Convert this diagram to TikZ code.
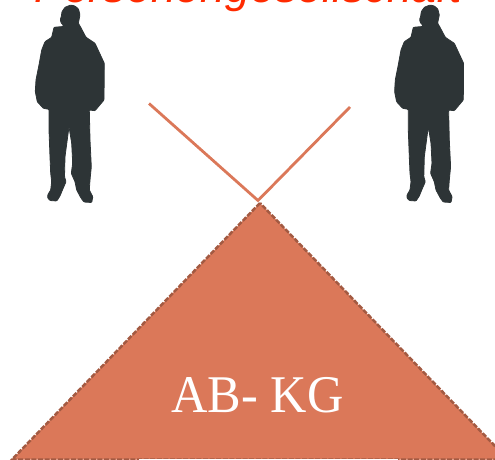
\documentclass[tikz,border=0pt]{standalone}
\usepackage{fontspec}
\setmainfont{Liberation Serif}
\newfontfamily\redfont{Liberation Sans}
\newfontfamily\labelfont[FakeStretch=0.95]{Liberation Serif}
\definecolor{terra}{HTML}{DB7859}
\definecolor{terradark}{HTML}{A35A42}
\definecolor{redtitle}{HTML}{FF2A00}
\definecolor{figure}{HTML}{2D3436}
\tikzset{
  silhouette/.style={fill=figure,draw=figure,line width=0.8pt,rounded corners=0.8pt},
  strut/.style={draw=terra,line width=2.8pt},
  roof/.style={fill=terra,draw=terradark,line width=2.5pt,dash pattern=on 5pt off 1.6pt},
}
\newcommand{\personpath}{
  (70.7,5) -- (65,7.3) -- (62,11.7) -- (61.3,16.7) -- (60.3,19.3) -- (61,22.7) -- (63.3,25) -- (63.3,26.5) -- (54,27.3) -- (51.7,37.3) -- (45,41.7) -- (41.7,50) -- (39.3,63.3) -- (36,80) -- (35.3,91.7) -- (37.3,101.7) -- (43.3,108.3) -- (49,109.3) -- (49,130) -- (50,156.7) -- (50.7,173.3) -- (51.7,181.7) -- (50.7,190) -- (47.7,195) -- (47.7,198) -- (50,200.5) -- (56.7,201) -- (60,196) -- (62,191) -- (66,181.7) -- (64.5,176.7) -- (65,156.7) -- (69,126.7) -- (71.7,143.3) -- (72.7,163.3) -- (71.3,173.3) -- (75,181.7) -- (76.7,190) -- (81,198) -- (84,202) -- (91.7,202.5) -- (92.8,196.7) -- (89.3,190) -- (90,180) -- (91.3,166.7) -- (90,140) -- (89.3,110) -- (95,110.7) -- (104,100) -- (104.3,63.3) -- (95,43.3) -- (86,37.3) -- (80,26) -- (78.3,23.3) -- (80,15) -- (78.5,9) -- (75,6) -- cycle
}
\begin{document}
\begin{tikzpicture}[x=1pt,y=-1pt]
\useasboundingbox (0,0) rectangle (495,460);
\begin{scope}
\clip (0,0) rectangle (495,460);
\node[anchor=base,inner sep=0pt,text=redtitle,font=\redfont\itshape\fontsize{44.7}{50}\selectfont] (title) at (248,3) {Personengesellschaft};
\fill[silhouette] \personpath;
\begin{scope}[xshift=359.3pt]
\fill[silhouette] \personpath;
\end{scope}
\coordinate (apex) at (260,203);
\coordinate (baseL) at (12,459.5);
\coordinate (baseR) at (508,459.5);
\coordinate (strutL) at (149,103.5);
\coordinate (strutR) at (350,107);
\coordinate (meet) at (258,200.5);
\draw[strut] (strutL) -- (meet) -- (strutR);
\draw[roof] (apex) -- (baseL) -- (baseR) -- cycle;
\fill[white] (139,459) rectangle (398,461);
\node[anchor=base,inner sep=0pt,text=white,font=\labelfont\fontsize{53}{58}\selectfont] (label) at (257.5,412.7) {AB- KG};
\end{scope}
\end{tikzpicture}
\end{document}
